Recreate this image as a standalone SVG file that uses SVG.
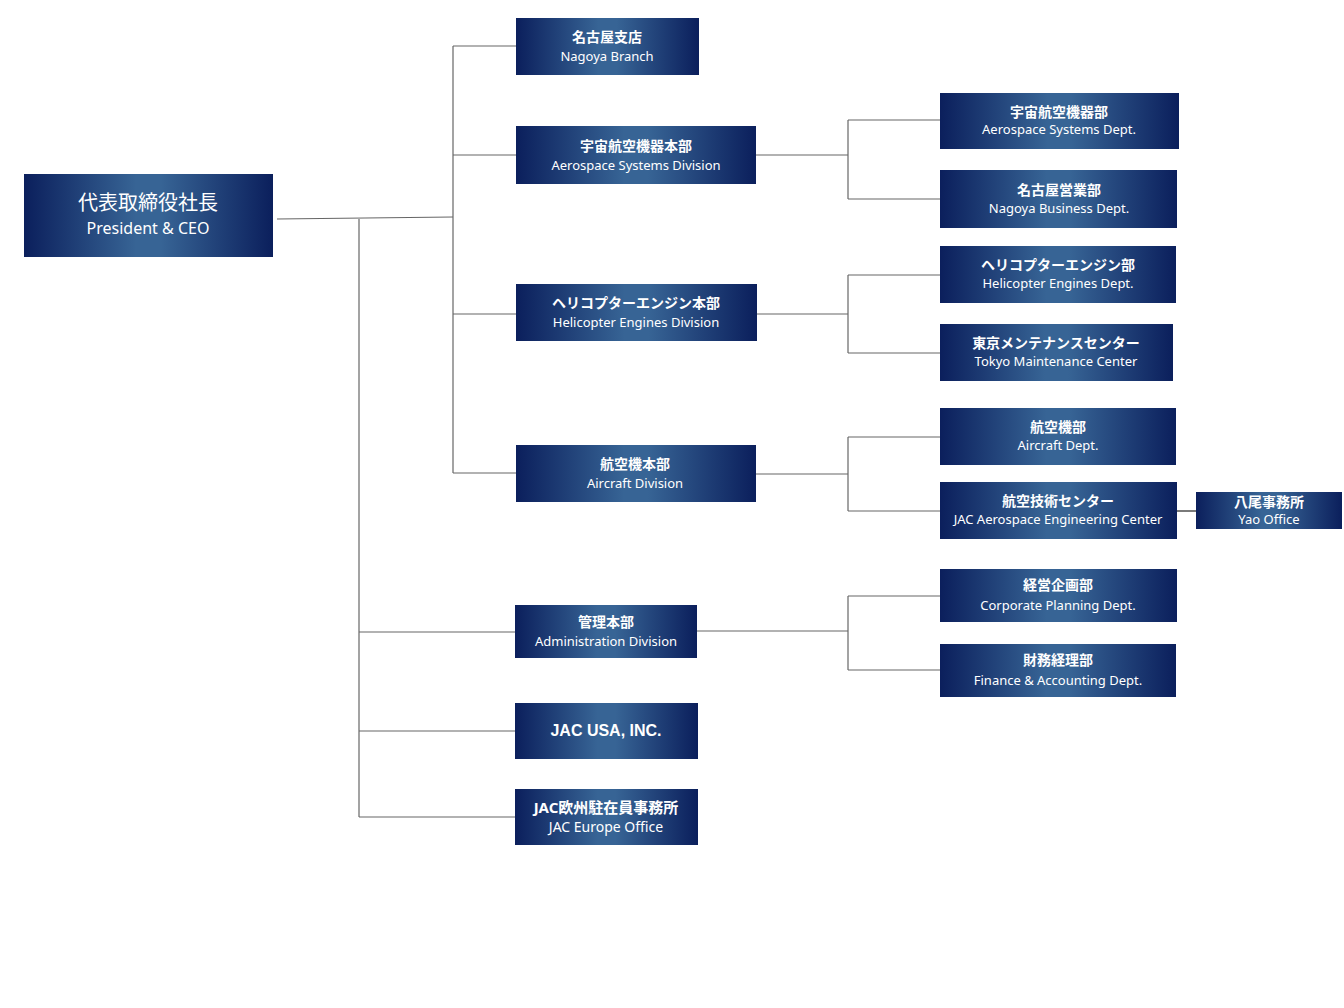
<svg xmlns="http://www.w3.org/2000/svg" width="1344" height="1008" viewBox="0 0 1344 1008">
<defs>
<linearGradient id="g" x1="0" y1="0" x2="1" y2="0">
<stop offset="0" stop-color="#0b1f5c"/><stop offset="0.45" stop-color="#376495"/><stop offset="0.55" stop-color="#376495"/><stop offset="1" stop-color="#0b1f5c"/>
</linearGradient>
<style>
rect{fill:url(#g)}
text{fill:#fff;text-anchor:middle;font-family:"Noto Sans","Noto Sans CJK JP",sans-serif}
.j{font-size:14px;font-weight:bold}
.e{font-size:13px}
.jl{font-size:20px}
.el{font-size:16px}
.c line{stroke:#666;stroke-width:1.2}
</style>
</defs>
<rect x="0" y="0" width="1344" height="1008" style="fill:#fff"/>
<g class="c">
<line x1="277" y1="219" x2="453" y2="217"/>
<line x1="453" y1="46" x2="453" y2="473"/>
<line x1="453" y1="46" x2="516" y2="46"/>
<line x1="453" y1="155" x2="516" y2="155"/>
<line x1="453" y1="314" x2="516" y2="314"/>
<line x1="453" y1="473" x2="516" y2="473"/>
<line x1="359" y1="219" x2="359" y2="817"/>
<line x1="359" y1="632" x2="515" y2="632"/>
<line x1="359" y1="731" x2="515" y2="731"/>
<line x1="359" y1="817" x2="515" y2="817"/>
<line x1="756" y1="155" x2="848" y2="155"/>
<line x1="848" y1="120" x2="848" y2="199"/>
<line x1="848" y1="120" x2="940" y2="120"/>
<line x1="848" y1="199" x2="940" y2="199"/>
<line x1="757" y1="314" x2="848" y2="314"/>
<line x1="848" y1="275" x2="848" y2="353"/>
<line x1="848" y1="275" x2="940" y2="275"/>
<line x1="848" y1="353" x2="940" y2="353"/>
<line x1="756" y1="474" x2="848" y2="474"/>
<line x1="848" y1="437" x2="848" y2="511"/>
<line x1="848" y1="437" x2="940" y2="437"/>
<line x1="848" y1="511" x2="940" y2="511"/>
<line x1="697" y1="631" x2="848" y2="631"/>
<line x1="848" y1="596" x2="848" y2="670"/>
<line x1="848" y1="596" x2="940" y2="596"/>
<line x1="848" y1="670" x2="940" y2="670"/>
<line x1="1177" y1="511" x2="1196" y2="511" style="stroke:#222"/>
</g>
<g id="ceo"><rect x="24" y="174" width="249" height="83"/><text class="jl" x="148" y="210">代表取締役社長</text><text class="el" x="148" y="234">President &amp; CEO</text></g>
<g id="nagoya"><rect x="516" y="18" width="183" height="57"/><text class="j" x="607" y="42">名古屋支店</text><text class="e" x="607" y="61">Nagoya Branch</text></g>
<g id="asd"><rect x="516" y="126" width="240" height="58"/><text class="j" x="636" y="151">宇宙航空機器本部</text><text class="e" x="636" y="170">Aerospace Systems Division</text></g>
<g id="hed"><rect x="516" y="284" width="241" height="57"/><text class="j" x="636" y="308">ヘリコプターエンジン本部</text><text class="e" x="636" y="327">Helicopter Engines Division</text></g>
<g id="acd"><rect x="516" y="445" width="240" height="57"/><text class="j" x="635" y="469">航空機本部</text><text class="e" x="635" y="488">Aircraft Division</text></g>
<g id="adm"><rect x="515" y="605" width="182" height="53"/><text class="j" x="606" y="627">管理本部</text><text class="e" x="606" y="646">Administration Division</text></g>
<g id="usa"><rect x="515" y="703" width="183" height="56"/><text x="606" y="736" style="font-family:'Liberation Sans',sans-serif;font-size:16px;font-weight:bold">JAC USA, INC.</text></g>
<g id="eu"><rect x="515" y="789" width="183" height="56"/><text class="j" x="606" y="813" style="font-size:15px">JAC欧州駐在員事務所</text><text class="e" x="606" y="832" style="font-size:14px">JAC Europe Office</text></g>
<g id="asdept"><rect x="940" y="93" width="239" height="56"/><text class="j" x="1059" y="117">宇宙航空機器部</text><text class="e" x="1059" y="134">Aerospace Systems Dept.</text></g>
<g id="nbd"><rect x="940" y="170" width="237" height="58"/><text class="j" x="1059" y="195">名古屋営業部</text><text class="e" x="1059" y="213">Nagoya Business Dept.</text></g>
<g id="hedept"><rect x="940" y="246" width="236" height="57"/><text class="j" x="1058" y="270">ヘリコプターエンジン部</text><text class="e" x="1058" y="288">Helicopter Engines Dept.</text></g>
<g id="tmc"><rect x="940" y="324" width="233" height="57"/><text class="j" x="1056" y="348">東京メンテナンスセンター</text><text class="e" x="1056" y="366">Tokyo Maintenance Center</text></g>
<g id="acdept"><rect x="940" y="408" width="236" height="57"/><text class="j" x="1058" y="432">航空機部</text><text class="e" x="1058" y="450">Aircraft Dept.</text></g>
<g id="aec"><rect x="940" y="482" width="237" height="57"/><text class="j" x="1058" y="506">航空技術センター</text><text class="e" x="1058" y="524">JAC Aerospace Engineering Center</text></g>
<g id="yao"><rect x="1196" y="492" width="146" height="37"/><text class="j" x="1269" y="507">八尾事務所</text><text class="e" x="1269" y="524">Yao Office</text></g>
<g id="cpd"><rect x="940" y="569" width="237" height="53"/><text class="j" x="1058" y="590">経営企画部</text><text class="e" x="1058" y="610">Corporate  Planning Dept.</text></g>
<g id="fad"><rect x="940" y="644" width="236" height="53"/><text class="j" x="1058" y="665">財務経理部</text><text class="e" x="1058" y="685">Finance &amp; Accounting  Dept.</text></g>
</svg>
